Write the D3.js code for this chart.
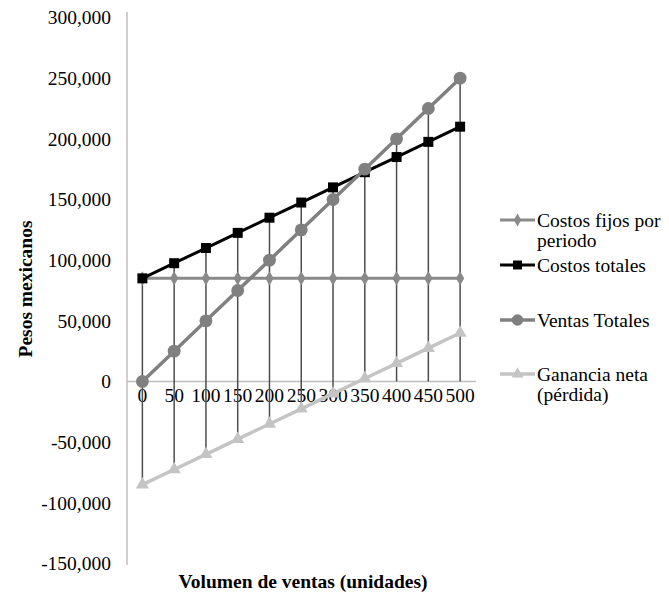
<!DOCTYPE html>
<html>
<head>
<meta charset="utf-8">
<script src="https://cdn.jsdelivr.net/npm/d3@7"></script>
<style>
  body { margin: 0; background: #fff; }
  svg { display: block; }
  text { font-family: "Liberation Serif", "Times New Roman", serif; fill: #000; }
</style>
</head>
<body>
<svg id="chart" width="669" height="595"></svg>
<script>
// Break-even data: units sold vs. pesos
const unidades = [0, 50, 100, 150, 200, 250, 300, 350, 400, 450, 500];
const costosFijos = [85000, 85000, 85000, 85000, 85000, 85000, 85000, 85000, 85000, 85000, 85000];
const costosTotales = [85000, 97500, 110000, 122500, 135000, 147500, 160000, 172500, 185000, 197500, 210000];
const ventasTotales = [0, 25000, 50000, 75000, 100000, 125000, 150000, 175000, 200000, 225000, 250000];
const gananciaNeta = [-85000, -72500, -60000, -47500, -35000, -22500, -10000, 2500, 15000, 27500, 40000];
const yTicks = [-150000, -100000, -50000, 0, 50000, 100000, 150000, 200000, 250000, 300000];
const seriesNames = ["Costos fijos por periodo", "Costos totales", "Ventas Totales", "Ganancia neta (pérdida)"];

const svg = d3.select("#chart");

const x = d3.scaleBand().domain(unidades).range([126.5, 476]);
const y = d3.scaleLinear().domain([-150000, 300000]).range([563.5, 17.5]);
const cx = d => x(d) + x.bandwidth() / 2;

const series = [
  { name: seriesNames[0], values: costosFijos, color: "#8a8a8a", width: 3, marker: "diamond", size: 60 },
  { name: seriesNames[1], values: costosTotales, color: "#000000", width: 3, marker: "square", size: 100 },
  { name: seriesNames[2], values: ventasTotales, color: "#808080", width: 3.5, marker: "circle", size: 130 },
  { name: seriesNames[3], values: gananciaNeta, color: "#c4c4c4", width: 3.5, marker: "triangle", size: 75 }
];
const symbolOf = { diamond: d3.symbolDiamond, square: d3.symbolSquare, circle: d3.symbolCircle, triangle: d3.symbolTriangle };

// Vertical axis line
svg.append("line")
  .attr("x1", 127).attr("x2", 127)
  .attr("y1", 12).attr("y2", 565)
  .attr("stroke", "#bfbfbf").attr("stroke-width", 1.5);

// Y axis labels (plain hyphen for negatives)
const fmt = d3.format(",");
const yAxis = d3.axisLeft(y).tickValues(yTicks).tickSize(0).tickPadding(0)
  .tickFormat(d => fmt(d).replace("\u2212", "-"));
const yg = svg.append("g").attr("transform", "translate(111,0)").call(yAxis);
yg.select(".domain").remove();
yg.selectAll("text")
  .style("font-family", "'Liberation Serif', serif")
  .style("font-size", "19.5px")
  .attr("fill", "#000");

// Zero baseline
svg.append("line")
  .attr("x1", 127).attr("x2", 476)
  .attr("y1", y(0)).attr("y2", y(0))
  .attr("stroke", "#bfbfbf").attr("stroke-width", 1.5);

// X category labels just under the zero line
const xAxis = d3.axisBottom(x).tickSize(0).tickPadding(0);
const xg = svg.append("g").attr("transform", `translate(0,${y(0) + 7})`).call(xAxis);
xg.select(".domain").remove();
xg.selectAll("text")
  .style("font-family", "'Liberation Serif', serif")
  .style("font-size", "19.5px")
  .attr("fill", "#000");

// Drop lines from the highest point down to the lowest point (or the axis)
svg.append("g").selectAll("line")
  .data(unidades.map((u, i) => {
    const vals = series.map(s => s.values[i]);
    return { u, top: d3.max(vals), bottom: Math.min(d3.min(vals), 0) };
  }))
  .join("line")
  .attr("x1", d => cx(d.u)).attr("x2", d => cx(d.u))
  .attr("y1", d => y(d.top)).attr("y2", d => y(d.bottom))
  .attr("stroke", "#4d4d4d").attr("stroke-width", 1.5);

// Series lines and markers
const line = d3.line().x((d, i) => cx(unidades[i])).y(d => y(d));
series.forEach(s => {
  const g = svg.append("g");
  g.append("path")
    .attr("d", line(s.values))
    .attr("fill", "none")
    .attr("stroke", s.color)
    .attr("stroke-width", s.width)
    .attr("stroke-linejoin", "round");
  g.selectAll("path.m")
    .data(s.values)
    .join("path")
    .attr("class", "m")
    .attr("d", d3.symbol().type(symbolOf[s.marker]).size(s.size))
    .attr("transform", (d, i) => `translate(${cx(unidades[i])},${y(d)})`)
    .attr("fill", s.color);
});

// Axis titles
svg.append("text")
  .attr("transform", "translate(25,289) rotate(-90)")
  .attr("text-anchor", "middle")
  .attr("dominant-baseline", "central")
  .style("font-size", "19.5px")
  .style("font-weight", "bold")
  .text("Pesos mexicanos");

svg.append("text")
  .attr("x", 303).attr("y", 581)
  .attr("text-anchor", "middle")
  .attr("dominant-baseline", "central")
  .style("font-size", "19.5px")
  .style("font-weight", "bold")
  .text("Volumen de ventas (unidades)");

// Legend
const legendRows = [
  { s: series[0], y: 220, lines: ["Costos fijos por", "periodo"] },
  { s: series[1], y: 265, lines: ["Costos totales"] },
  { s: series[2], y: 320, lines: ["Ventas Totales"] },
  { s: series[3], y: 374, lines: ["Ganancia neta", "(pérdida)"] }
];
const lg = svg.append("g");
legendRows.forEach(r => {
  lg.append("line")
    .attr("x1", 500).attr("x2", 535)
    .attr("y1", r.y).attr("y2", r.y)
    .attr("stroke", r.s.color).attr("stroke-width", r.s.width);
  lg.append("path")
    .attr("d", d3.symbol().type(symbolOf[r.s.marker]).size(r.s.size * 0.8))
    .attr("transform", `translate(517.5,${r.y})`)
    .attr("fill", r.s.color);
  r.lines.forEach((t, k) => {
    lg.append("text")
      .attr("x", 537).attr("y", r.y + k * 20.5)
      .attr("dominant-baseline", "central")
      .style("font-size", "19.5px")
      .text(t);
  });
});
</script>
</body>
</html>
